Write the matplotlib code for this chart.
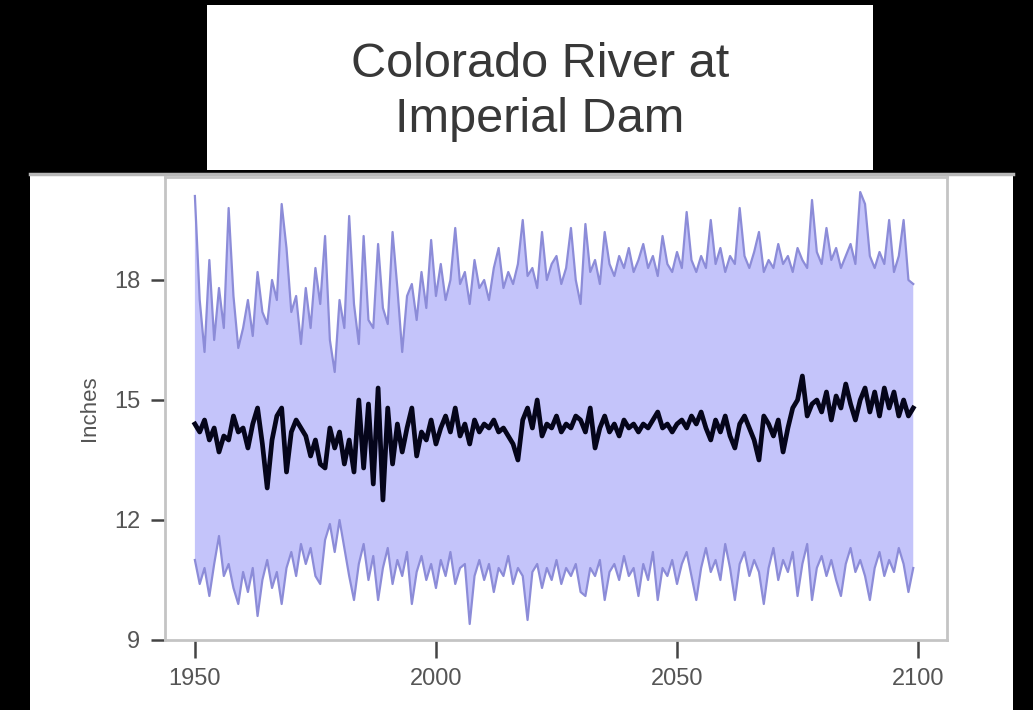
import matplotlib
matplotlib.use("Agg")
import matplotlib.pyplot as plt
from matplotlib.patches import Rectangle
from matplotlib.lines import Line2D
import numpy as np

# ---- data (inches, annual 1950-2099) ----
years = list(range(1950, 2100))

upper = [
    20.1, 17.5, 16.2, 18.5, 16.5, 17.8, 16.8, 19.8, 17.6, 16.3,
    16.8, 17.5, 16.6, 18.2, 17.2, 16.9, 18.0, 17.5, 19.9, 18.8,
    17.2, 17.6, 16.4, 17.8, 16.8, 18.3, 17.4, 19.1, 16.5, 15.7,
    17.5, 16.8, 19.6, 17.4, 16.4, 19.1, 17.0, 16.8, 18.9, 17.3,
    16.9, 19.2, 17.8, 16.2, 17.6, 17.9, 17.0, 18.2, 17.3, 19.0,
    17.6, 18.4, 17.5, 18.0, 19.3, 17.9, 18.2, 17.4, 18.5, 17.8,
    18.0, 17.5, 18.3, 18.8, 17.8, 18.2, 17.9, 18.4, 19.5, 18.1,
    18.3, 17.8, 19.2, 18.0, 18.4, 18.6, 17.9, 18.3, 19.3, 18.0,
    17.4, 19.4, 18.2, 18.5, 17.9, 19.2, 18.4, 18.1, 18.6, 18.3,
    18.8, 18.2, 18.5, 18.9, 18.3, 18.6, 18.1, 19.1, 18.4, 18.2,
    18.7, 18.3, 19.7, 18.5, 18.2, 18.6, 18.3, 19.5, 18.4, 18.8,
    18.2, 18.6, 18.4, 19.8, 18.6, 18.3, 18.7, 19.2, 18.2, 18.5,
    18.3, 18.9, 18.4, 18.6, 18.2, 18.8, 18.5, 18.3, 20.0, 18.7,
    18.4, 19.3, 18.5, 18.8, 18.3, 18.6, 18.9, 18.4, 20.2, 19.9,
    18.6, 18.3, 18.7, 18.4, 19.5, 18.2, 18.6, 19.5, 18.0, 17.9,
]

lower = [
    11.0, 10.4, 10.8, 10.1, 10.9, 11.6, 10.6, 10.9, 10.3, 9.9,
    10.7, 10.2, 10.8, 9.6, 10.5, 11.0, 10.3, 10.7, 9.9, 10.8,
    11.2, 10.6, 11.4, 10.9, 11.3, 10.6, 10.4, 11.5, 11.9, 11.2,
    12.0, 11.3, 10.6, 10.0, 10.9, 11.4, 10.5, 11.1, 10.0, 10.8,
    11.3, 10.4, 11.0, 10.6, 11.2, 9.9, 10.7, 11.1, 10.5, 10.9,
    10.3, 11.0, 10.6, 11.2, 10.4, 10.8, 10.9, 9.4, 10.6, 11.0,
    10.5, 10.9, 10.2, 10.8, 10.6, 11.1, 10.4, 10.8, 10.6, 9.5,
    10.7, 10.9, 10.3, 10.8, 10.5, 11.0, 10.4, 10.8, 10.6, 10.9,
    10.2, 10.1, 10.8, 10.6, 11.0, 10.0, 10.7, 10.9, 10.5, 11.1,
    10.6, 10.8, 10.1, 10.9, 10.5, 11.2, 10.0, 10.8, 10.6, 11.0,
    10.4, 10.9, 11.2, 10.6, 10.0, 10.8, 11.3, 10.7, 11.0, 10.5,
    11.4, 10.8, 10.0, 10.9, 11.2, 10.6, 11.0, 10.7, 9.9, 10.8,
    11.3, 10.5, 11.0, 10.7, 11.2, 10.1, 10.9, 11.4, 10.0, 10.8,
    11.1, 10.6, 11.0, 10.5, 10.1, 10.9, 11.3, 10.7, 11.0, 10.6,
    10.0, 10.8, 11.2, 10.6, 11.0, 10.7, 11.3, 10.9, 10.2, 10.8,
]

mean = [
    14.4, 14.2, 14.5, 14.0, 14.3, 13.7, 14.1, 14.0, 14.6, 14.2,
    14.3, 13.8, 14.4, 14.8, 13.9, 12.8, 14.0, 14.6, 14.8, 13.2,
    14.2, 14.5, 14.3, 14.1, 13.6, 14.0, 13.4, 13.3, 14.3, 13.8,
    14.2, 13.4, 14.0, 13.2, 15.0, 13.3, 14.9, 12.9, 15.3, 12.5,
    14.8, 13.4, 14.4, 13.7, 14.3, 14.8, 13.6, 14.2, 14.0, 14.5,
    13.9, 14.3, 14.6, 14.2, 14.8, 14.1, 14.4, 13.9, 14.5, 14.2,
    14.4, 14.3, 14.5, 14.2, 14.3, 14.1, 13.9, 13.5, 14.5, 14.8,
    14.3, 15.0, 14.1, 14.4, 14.3, 14.6, 14.2, 14.4, 14.3, 14.6,
    14.5, 14.2, 14.8, 13.8, 14.3, 14.6, 14.2, 14.4, 14.1, 14.5,
    14.3, 14.4, 14.2, 14.4, 14.3, 14.5, 14.7, 14.3, 14.4, 14.2,
    14.4, 14.5, 14.3, 14.6, 14.4, 14.7, 14.3, 14.0, 14.5, 14.2,
    14.6, 14.1, 13.8, 14.4, 14.6, 14.3, 14.0, 13.5, 14.6, 14.4,
    14.1, 14.5, 13.7, 14.3, 14.8, 15.0, 15.6, 14.6, 14.9, 15.0,
    14.7, 15.2, 14.5, 15.1, 14.8, 15.4, 14.9, 14.5, 15.0, 15.3,
    14.7, 15.2, 14.6, 15.3, 14.8, 15.2, 14.6, 15.0, 14.6, 14.8,
]

xticks = [1950, 2000, 2050, 2100]
yticks = [9, 12, 15, 18]
title_text = "Colorado River at\nImperial Dam"
ylabel_text = "Inches"

# ---- figure ----
W, H = 1033, 710
fig = plt.figure(figsize=(W / 100, H / 100), dpi=100, facecolor="black")

def fx(px):
    return px / W

def fy(py):
    return 1 - py / H

# title box
fig.patches.append(Rectangle((fx(207), fy(170)), fx(873) - fx(207), fy(5) - fy(170),
                             transform=fig.transFigure, facecolor="white",
                             edgecolor="none", zorder=-2))
# plot panel
fig.patches.append(Rectangle((fx(30), 0), fx(1013) - fx(30), fy(173),
                             transform=fig.transFigure, facecolor="white",
                             edgecolor="none", zorder=-2))
fig.lines.append(Line2D([fx(30), fx(1013)], [fy(174), fy(174)],
                        transform=fig.transFigure, color="#b8b8b8", lw=2.5,
                        zorder=-1))

fig.text(fx(540), fy(92), title_text, ha="center", va="center",
         fontsize=35, color="#383838", family="Liberation Sans",
         linespacing=1.3)

ax = fig.add_axes([fx(165), fy(640), fx(947) - fx(165), fy(177) - fy(640)])
ax.set_zorder(1)
ax.set_facecolor("white")

ax.fill_between(years, lower, upper, facecolor="#c4c4fa", edgecolor="none", zorder=1)
ax.plot(years, upper, color="#8c8cd8", lw=1.6, zorder=2)
ax.plot(years, lower, color="#8c8cd8", lw=1.6, zorder=2)
ax.plot(years, mean, color="#05051a", lw=3.4, zorder=3)

ax.set_xlim(1943.8, 2106.0)
ax.set_ylim(9.0, 20.575)
ax.set_xticks(xticks)
ax.set_yticks(yticks)
ax.set_xticklabels([str(t) for t in xticks])
ax.set_yticklabels([str(t) for t in yticks])

for s in ax.spines.values():
    s.set_color("#c4c4c4")
    s.set_linewidth(2.0)

ax.tick_params(axis="x", direction="out", length=13, width=1.8, color="#444444",
               labelsize=17, labelcolor="#555555", pad=7)
ax.tick_params(axis="y", direction="out", length=10, width=1.8, color="#444444",
               labelsize=17, labelcolor="#555555", pad=8)
for lab in ax.get_xticklabels() + ax.get_yticklabels():
    lab.set_family("Liberation Sans")

ax.set_ylabel(ylabel_text, fontsize=16, color="#555555", family="Liberation Sans",
              labelpad=10)

fig.savefig("out.png", dpi=100, facecolor="black")
